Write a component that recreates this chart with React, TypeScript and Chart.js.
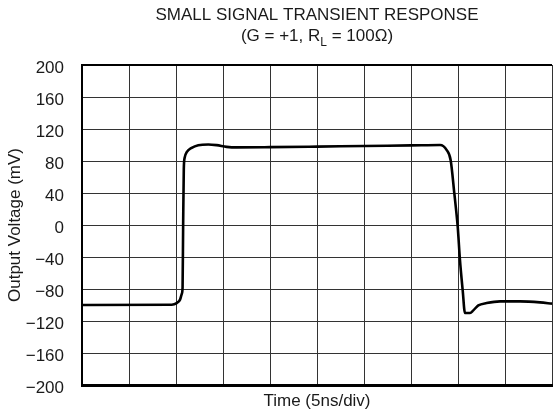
import React, { useEffect, useRef } from 'react';
import { Chart, registerables } from 'chart.js';

Chart.register(...registerables);

// ---- data ----
const timeNs: number[] = [
  0, 9.54, 10.07, 10.43, 10.62, 10.7, 10.76, 10.83, 10.92, 11.14, 11.67, 12.37, 13.44, 14.33, 15.39, 16.46,
  20, 25, 30, 35, 38.09, 38.8, 39.22, 39.61, 39.97, 40.21, 40.5, 40.74, 41.28, 41.63, 42.16, 43.05,
  44.47, 46.6, 48.72, 50,
];
const outputMv: number[] = [
  -100, -99.6, -97.6, -93.3, -85.8, -78, 0, 70, 84, 91, 96.5, 99.8, 100.7, 99.8, 97.7, 97,
  97.3, 98, 98.8, 99.5, 100, 93.6, 81, 39.4, -2.4, -44, -81.7, -110, -110, -106.7, -100.5, -97.6,
  -95.5, -95.5, -96.7, -98.3,
];
const yTickValues: number[] = [-200, -160, -120, -80, -40, 0, 40, 80, 120, 160, 200];
const xTickValues: number[] = [0, 5, 10, 15, 20, 25, 30, 35, 40, 45, 50];

const titleLine1 = 'SMALL SIGNAL TRANSIENT RESPONSE';
const titleLine2Parts: string[] = ['(G = +1, R', 'L', ' = 100Ω)'];
const xAxisTitle = 'Time (5ns/div)';
const yAxisTitle = 'Output Voltage (mV)';

const FONT = '"Liberation Sans", Arial, Helvetica, sans-serif';

const textPlugin = {
  id: 'customTexts',
  afterDraw(chart: any) {
    const { ctx, chartArea } = chart;
    const cx = (chartArea.left + chartArea.right) / 2;
    ctx.save();
    ctx.fillStyle = '#1a1a1a';
    ctx.textBaseline = 'alphabetic';

    // title line 1
    ctx.font = `17px ${FONT}`;
    ctx.textAlign = 'center';
    ctx.fillText(titleLine1, cx, 20);

    // title line 2 with subscript
    const [a, sub, b] = titleLine2Parts;
    ctx.font = `17px ${FONT}`;
    const wa = ctx.measureText(a).width;
    const wb = ctx.measureText(b).width;
    ctx.font = `12px ${FONT}`;
    const ws = ctx.measureText(sub).width;
    let x = cx - (wa + ws + wb) / 2;
    ctx.textAlign = 'left';
    ctx.font = `17px ${FONT}`;
    ctx.fillText(a, x, 41);
    x += wa;
    ctx.font = `12px ${FONT}`;
    ctx.fillText(sub, x, 46);
    x += ws;
    ctx.font = `17px ${FONT}`;
    ctx.fillText(b, x, 41);

    // x axis title
    ctx.textAlign = 'center';
    ctx.fillText(xAxisTitle, cx, 405.5);

    // y axis title
    ctx.save();
    ctx.translate(19.5, (chartArea.top + chartArea.bottom) / 2);
    ctx.rotate(-Math.PI / 2);
    ctx.textAlign = 'center';
    ctx.fillText(yAxisTitle, 0, 0);
    ctx.restore();

    // top frame line
    ctx.strokeStyle = '#000';
    ctx.lineWidth = 2;
    ctx.beginPath();
    ctx.moveTo(chartArea.left - 1, chartArea.top);
    ctx.lineTo(chartArea.right, chartArea.top);
    ctx.stroke();

    ctx.restore();
  },
};

export default function App() {
  const canvasRef = useRef<HTMLCanvasElement | null>(null);

  useEffect(() => {
    if (!canvasRef.current) return;
    const chart = new Chart(canvasRef.current, {
      type: 'line',
      data: {
        datasets: [
          {
            data: timeNs.map((t, i) => ({ x: t, y: outputMv[i] })),
            borderColor: '#000',
            borderWidth: 2.6,
            pointRadius: 0,
            cubicInterpolationMode: 'monotone',
            fill: false,
          },
        ],
      },
      options: {
        responsive: false,
        animation: false,
        layout: { padding: { top: 65, right: 1, left: 0, bottom: 0 } },
        plugins: {
          legend: { display: false },
          title: { display: false },
          tooltip: { enabled: false },
        },
        scales: {
          x: {
            type: 'linear',
            min: 0,
            max: 50,
            afterBuildTicks: (scale: any) => {
              scale.ticks = xTickValues.map((v) => ({ value: v }));
            },
            afterFit: (scale: any) => {
              scale.height = 31;
            },
            ticks: { display: false },
            grid: { color: '#333', lineWidth: 1, drawTicks: false },
            border: { color: '#000', width: 3 },
          },
          y: {
            type: 'linear',
            min: -200,
            max: 200,
            afterBuildTicks: (scale: any) => {
              scale.ticks = yTickValues.map((v) => ({ value: v }));
            },
            afterFit: (scale: any) => {
              scale.width = 82;
            },
            ticks: {
              color: '#1a1a1a',
              font: { family: FONT, size: 17 },
              padding: 18,
              labelOffset: 3,
              callback: (v: any) => (v < 0 ? '\u2212' + Math.abs(v) : String(v)),
            },
            grid: { color: '#333', lineWidth: 1, drawTicks: false },
            border: { color: '#000', width: 2 },
          },
        },
      },
      plugins: [textPlugin],
    } as any);
    return () => chart.destroy();
  }, []);

  return (
    <div style={{ position: 'absolute', left: 0, top: 0, width: 553, height: 416, background: '#fff' }}>
      <canvas ref={canvasRef} width={553} height={416} style={{ display: 'block' }} />
    </div>
  );
}
